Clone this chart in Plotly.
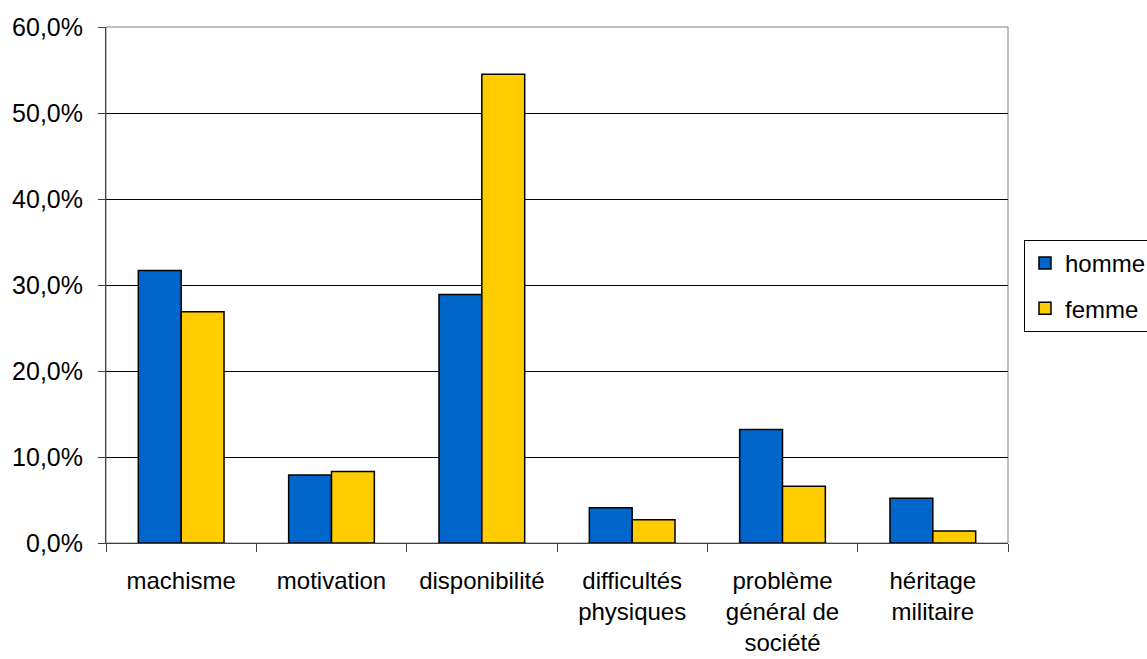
import plotly.graph_objects as go

# Categories and percentages per gender
categories = [
    "machisme",
    "motivation",
    "disponibilité",
    "difficultés<br>physiques",
    "problème<br>général de<br>société",
    "héritage<br>militaire",
]
homme = [31.7, 7.9, 28.9, 4.1, 13.2, 5.2]
femme = [26.9, 8.3, 54.5, 2.7, 6.6, 1.4]
y_ticks = [0, 10, 20, 30, 40, 50, 60]
y_tick_labels = ["0,0%", "10,0%", "20,0%", "30,0%", "40,0%", "50,0%", "60,0%"]

FONT = "Liberation Sans, Arial, sans-serif"
FS = 25

fig = go.Figure()
fig.add_trace(go.Bar(
    name="homme", x=categories, y=homme, legendgroup="h",
    marker=dict(color="#0066CC", line=dict(color="#000000", width=1.5)),
))
fig.add_trace(go.Bar(
    name="femme", x=categories, y=femme, legendgroup="f",
    marker=dict(color="#FFCC00", line=dict(color="#000000", width=1.5)),
))

# gray frame around the plotting area
fig.add_shape(type="rect", xref="paper", yref="paper", x0=0, x1=1, y0=0, y1=1,
              line=dict(color="#808080", width=1), layer="below")

fig.update_layout(
    width=1147, height=659,
    margin=dict(l=106, r=139, t=27, b=116, autoexpand=False),
    paper_bgcolor="white", plot_bgcolor="white",
    barmode="group", bargap=0.43, bargroupgap=0,
    font=dict(family=FONT, size=FS, color="#000000"),
    showlegend=True,
    legend=dict(
        xref="container", yref="container",
        x=1024 / 1147, y=1 - 240 / 659, xanchor="left", yanchor="top",
        bordercolor="#000000", borderwidth=1, bgcolor="white",
        font=dict(family=FONT, size=24, color="#000000"),
        tracegroupgap=11,
    ),
    xaxis=dict(
        type="category", tickson="boundaries",
        showline=True, linecolor="#404040", linewidth=1,
        ticks="outside", ticklen=8, tickcolor="#404040",
        showgrid=False,
        tickfont=dict(family=FONT, size=24, color="#000000"),
        ticklabelstandoff=16,
    ),
    yaxis=dict(
        range=[0, 60], tickvals=y_ticks, ticktext=y_tick_labels,
        showline=True, linecolor="#404040", linewidth=1,
        ticks="outside", ticklen=7, tickcolor="#404040",
        showgrid=True, gridcolor="#000000", gridwidth=1,
        zeroline=False,
        tickfont=dict(family=FONT, size=FS, color="#000000"),
        ticklabelstandoff=10,
    ),
)

fig.write_html("out.html")
